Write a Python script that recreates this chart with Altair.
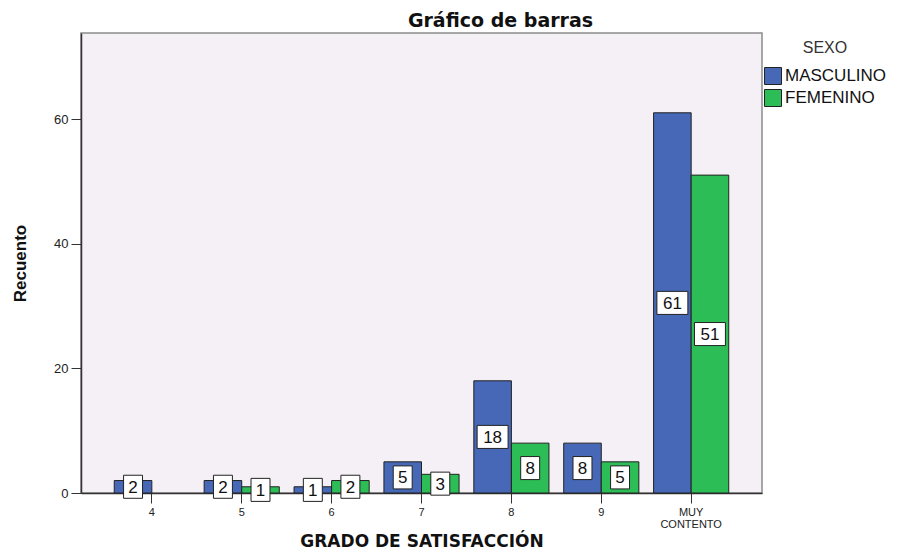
import altair as alt
import pandas as pd

categorias = ["4", "5", "6", "7", "8", "9", "MUY CONTENTO"]
masculino = [2, 2, 1, 5, 18, 8, 61]
femenino = [None, 1, 2, 3, 8, 5, 51]
sexos = ["MASCULINO", "FEMENINO"]
colores = ["#4668B6", "#2DBD57"]

rows = []
for c, m, f in zip(categorias, masculino, femenino):
    rows.append({"cat": c, "sexo": "MASCULINO", "v": m})
    if f is not None:
        rows.append({"cat": c, "sexo": "FEMENINO", "v": f})
df = pd.DataFrame(rows)
df["mid"] = df["v"] / 2

FONT = "Liberation Sans"

x_enc = alt.X(
    "cat:N",
    sort=categorias,
    scale=alt.Scale(domain=categorias, paddingInner=0.164, paddingOuter=0.37),
    axis=alt.Axis(
        title="GRADO DE SATISFACCIÓN",
        labelAngle=0,
        labelExpr="datum.value == 'MUY CONTENTO' ? ['MUY', 'CONTENTO'] : datum.label",
        labelLineHeight=12,
        tickSize=10,
        bandPosition=0.5,
        labelFontSize=11,
        labelFont=FONT,
        labelPadding=3,
        titleFont="DejaVu Sans",
        titleFontSize=17,
        titleFontWeight="bold",
        titleY=48,
        titleBaseline="middle",
    ),
)
xoff = alt.XOffset("sexo:N", sort=sexos, scale=alt.Scale(domain=sexos))
y_scale = alt.Scale(domain=[0, 73.8], nice=False, zero=True)

bars = alt.Chart(df).mark_bar(stroke="#222222", strokeWidth=1).encode(
    x=x_enc,
    xOffset=xoff,
    y=alt.Y(
        "v:Q",
        scale=y_scale,
        axis=alt.Axis(
            title="Recuento",
            values=[0, 20, 40, 60],
            tickSize=10,
            labelFontSize=13,
            labelFont=FONT,
            labelPadding=3,
            titleFont=FONT,
            titleFontSize=17,
            titleFontWeight="bold",
            titlePadding=24,
        ),
    ),
    color=alt.Color(
        "sexo:N",
        sort=sexos,
        scale=alt.Scale(domain=sexos, range=colores),
        legend=alt.Legend(
            title="SEXO",
            orient="none",
            legendX=683,
            legendY=7,
            titleAnchor="middle",
            titleFont=FONT,
            titleFontSize=16,
            titleFontWeight="normal",
            titleColor="#333333",
            titlePadding=11,
            labelFont=FONT,
            labelFontSize=17,
            labelColor="#111111",
            labelOffset=3,
            symbolType="square",
            symbolSize=289,
            symbolStrokeColor="#222222",
            symbolStrokeWidth=1,
            symbolOpacity=1,
            rowPadding=0,
            padding=0,
        ),
    ),
)

narrow = "M-0.79,-0.96H0.79V0.96H-0.79Z"
wide = "M-1.29,-0.96H1.29V0.96H-1.29Z"

box_small = alt.Chart(df).transform_filter(alt.datum.v < 10).mark_point(
    shape=narrow, size=576, filled=True, fill="white", stroke="#222222", strokeWidth=1, opacity=1
).encode(x=alt.X("cat:N", sort=categorias), xOffset=xoff, y=alt.Y("mid:Q", scale=y_scale))

box_big = alt.Chart(df).transform_filter(alt.datum.v >= 10).mark_point(
    shape=wide, size=576, filled=True, fill="white", stroke="#222222", strokeWidth=1, opacity=1
).encode(x=alt.X("cat:N", sort=categorias), xOffset=xoff, y=alt.Y("mid:Q", scale=y_scale))

labels = alt.Chart(df).mark_text(
    font=FONT, fontSize=17, color="#111111", baseline="middle", align="center", dy=1
).encode(
    x=alt.X("cat:N", sort=categorias),
    xOffset=xoff,
    y=alt.Y("mid:Q", scale=y_scale),
    text="v:Q",
)

chart = (
    alt.layer(bars, box_small, box_big, labels)
    .properties(
        width=681,
        height=460,
        autosize="none",
        padding={"left": 73, "top": 25, "right": 144, "bottom": 58},
        title=alt.Title(
            "Gráfico de barras",
            font="DejaVu Sans",
            fontSize=19,
            fontWeight="bold",
            dx=79,
            offset=2,
            anchor="middle",
            color="#111111",
        ),
    )
    .configure_view(fill="#F5F0F5", stroke="#8C8C8C", strokeWidth=1.5)
    .configure_axis(grid=False, domainColor="#333333", tickColor="#333333", labelColor="#222222", titleColor="#111111", domainWidth=1.5)
)

chart.save("out.html", embed_options={"renderer": "svg", "actions": False})
